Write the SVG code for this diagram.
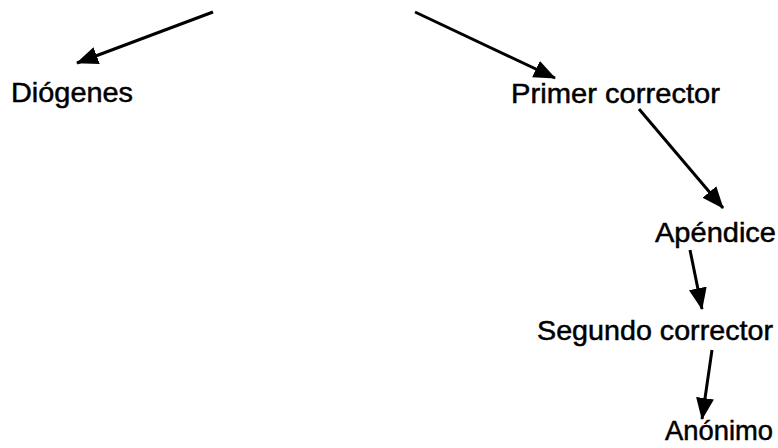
<svg xmlns="http://www.w3.org/2000/svg" width="778" height="448" viewBox="0 0 778 448">
<style>
.lbl{font-family:"Liberation Sans",Arial,sans-serif;font-size:28px;fill:#000;stroke:#000;stroke-width:0.5}
.con{stroke:#000;stroke-width:3;fill:none;marker-end:url(#ah)}
</style>
<defs>
<marker id="ah" markerUnits="userSpaceOnUse" markerWidth="24" markerHeight="20" refX="21" refY="9" orient="auto">
<path d="M0,0 L22,9 L0,18 z" fill="#000"/>
</marker>
</defs>
<rect width="778" height="448" fill="#fff"/>
<g id="connectors">
<line class="con" x1="213" y1="12" x2="77" y2="63"/>
<line class="con" x1="415" y1="12" x2="555" y2="78"/>
<line class="con" x1="639" y1="109" x2="723" y2="208"/>
<line class="con" x1="690" y1="250" x2="702" y2="309"/>
<line class="con" x1="712" y1="350" x2="702" y2="419"/>
</g>
<g id="diogenes"><text class="lbl" x="11" y="102" textLength="122" lengthAdjust="spacingAndGlyphs">Diógenes</text></g>
<g id="primer-corrector"><text class="lbl" x="511" y="103" textLength="209" lengthAdjust="spacingAndGlyphs">Primer corrector</text></g>
<g id="apendice"><text class="lbl" x="655" y="242" textLength="121" lengthAdjust="spacingAndGlyphs">Apéndice</text></g>
<g id="segundo-corrector"><text class="lbl" x="537" y="340" textLength="236" lengthAdjust="spacingAndGlyphs">Segundo corrector</text></g>
<g id="anonimo"><text class="lbl" x="665" y="440" textLength="108" lengthAdjust="spacingAndGlyphs">Anónimo</text></g>
</svg>
